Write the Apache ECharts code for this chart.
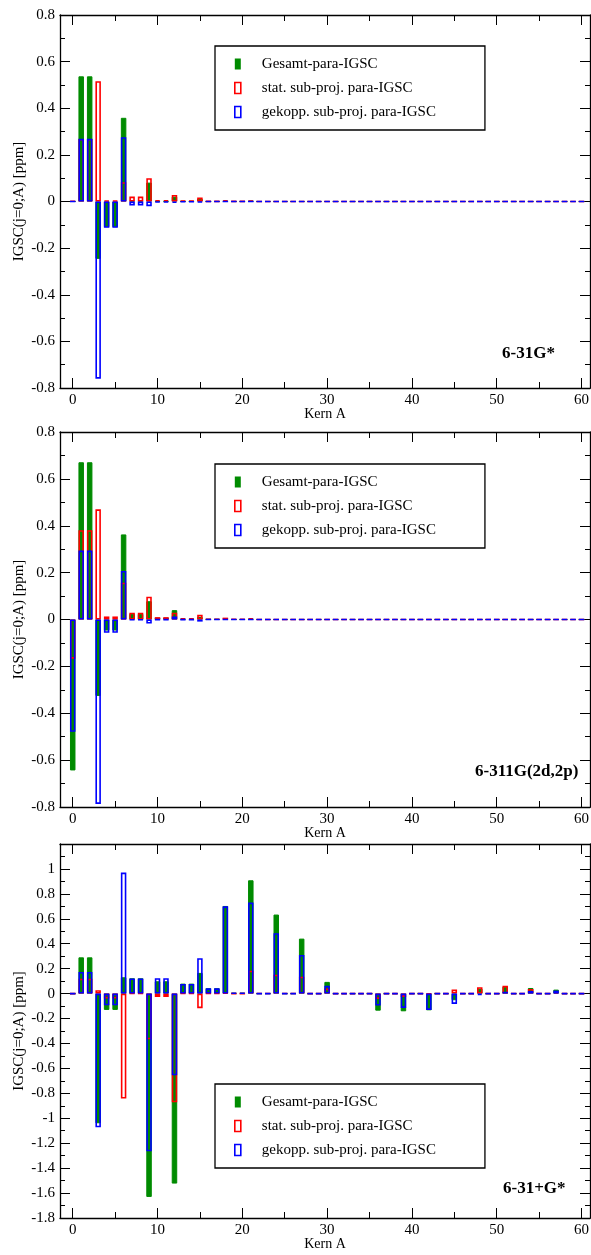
<!DOCTYPE html>
<html>
<head>
<meta charset="utf-8">
<title>IGSC para</title>
<script src="https://cdn.jsdelivr.net/npm/echarts@6/dist/echarts.min.js"></script>
<style>
html, body { margin: 0; padding: 0; background: #ffffff; }
#grafico { width: 591px; height: 1255px; }
</style>
</head>
<body>
<div id="grafico"></div>
<script>
// Kern A (x-Werte)
const kern = [0, 1, 2, 3, 4, 5, 6, 7, 8, 9, 10, 11, 12, 13, 14, 15, 16, 17, 18, 19, 20,
  21, 22, 23, 24, 25, 26, 27, 28, 29, 30, 31, 32, 33, 34, 35, 36, 37, 38, 39, 40,
  41, 42, 43, 44, 45, 46, 47, 48, 49, 50, 51, 52, 53, 54, 55, 56, 57, 58, 59, 60];

const xTicks = [0, 10, 20, 30, 40, 50, 60];
const xMinorTicks = [5, 15, 25, 35, 45, 55];

const basis = ['6-31G*', '6-311G(2d,2p)', '6-31+G*'];
const nomes = ['Gesamt-para-IGSC', 'stat. sub-proj. para-IGSC', 'gekopp. sub-proj. para-IGSC'];

// 6-31G*
const gesamt1 = [0, 0.537, 0.537, -0.246, -0.110, -0.110, 0.359, 0.004, 0.004, 0.081, 0.002,
  0.002, 0.021, 0.001, 0.001, 0.012, 0, 0, 0.003, 0, 0,
  0.002, 0, 0, 0, 0, 0, 0, 0, 0, 0, 0, 0, 0, 0, 0, 0, 0, 0, 0, 0,
  0, 0, 0, 0, 0, 0, 0, 0, 0, 0, 0, 0, 0, 0, 0, 0, 0, 0, 0, 0];
const stat1 = [0.002, 0.268, 0.268, 0.516, 0.004, 0.004, 0.083, 0.021, 0.021, 0.100, 0.006,
  0.006, 0.028, 0.003, 0.003, 0.017, 0.001, 0.001, 0.006, 0.001, 0.001,
  0.004, 0, 0, 0, 0, 0, 0, 0, 0, 0, 0, 0, 0, 0, 0, 0, 0, 0, 0, 0,
  0, 0, 0, 0, 0, 0, 0, 0, 0, 0, 0, 0, 0, 0, 0, 0, 0, 0, 0, 0];
const gekopp1 = [0, 0.269, 0.269, -0.760, -0.113, -0.113, 0.276, -0.017, -0.017, -0.020, -0.004,
  -0.004, -0.006, -0.002, -0.002, -0.004, 0, 0, 0, 0, 0,
  0, 0, 0, 0, 0, 0, 0, 0, 0, 0, 0, 0, 0, 0, 0, 0, 0, 0, 0, 0,
  0, 0, 0, 0, 0, 0, 0, 0, 0, 0, 0, 0, 0, 0, 0, 0, 0, 0, 0, 0];

// 6-311G(2d,2p)
const gesamt2 = [-0.644, 0.671, 0.671, -0.326, -0.047, -0.047, 0.363, 0.024, 0.024, 0.078, 0.008,
  0.008, 0.040, 0.003, 0.003, 0.011, 0.001, 0.001, 0.006, 0, 0,
  0.003, 0, 0, 0, 0, 0, 0, 0, 0, 0, 0, 0, 0, 0, 0, 0, 0, 0, 0, 0,
  0, 0, 0, 0, 0, 0, 0, 0, 0, 0, 0, 0, 0, 0, 0, 0, 0, 0, 0, 0];
const stat2 = [-0.167, 0.381, 0.381, 0.470, 0.013, 0.013, 0.157, 0.029, 0.029, 0.097, 0.010,
  0.010, 0.029, 0.005, 0.005, 0.020, 0.002, 0.002, 0.008, 0.002, 0.002,
  0.005, 0, 0, 0, 0, 0, 0, 0, 0, 0, 0, 0, 0, 0, 0, 0, 0, 0, 0, 0,
  0, 0, 0, 0, 0, 0, 0, 0, 0, 0, 0, 0, 0, 0, 0, 0, 0, 0, 0, 0];
const gekopp2 = [-0.479, 0.294, 0.294, -0.787, -0.057, -0.057, 0.207, -0.002, -0.002, -0.017, -0.001,
  -0.001, 0.013, -0.001, -0.001, -0.009, 0, 0, 0, 0, 0,
  0, 0, 0, 0, 0, 0, 0, 0, 0, 0, 0, 0, 0, 0, 0, 0, 0, 0, 0, 0,
  0, 0, 0, 0, 0, 0, 0, 0, 0, 0, 0, 0, 0, 0, 0, 0, 0, 0, 0, 0];

// 6-31+G*
const gesamt3 = [0, 0.291, 0.291, -1.040, -0.131, -0.131, 0.131, 0.123, 0.123, -1.631, 0.099,
  0.099, -1.524, 0.080, 0.080, 0.166, 0.043, 0.043, 0.703, 0.005, 0.005,
  0.909, 0, 0, 0.634, 0, 0, 0.441, 0, 0, 0.094, 0, 0, 0, 0, 0, -0.137, 0, 0, -0.142, 0,
  0, -0.134, 0, 0, -0.053, 0, 0, 0.040, 0, 0, 0.056, 0, 0, 0.045, 0, 0, 0.032, 0, 0, 0];
const stat3 = [0, 0.120, 0.120, 0.027, -0.040, -0.040, -0.842, 0.002, 0.002, -0.366, -0.027,
  -0.027, -0.872, 0.002, 0.002, -0.117, 0.001, 0.001, 0.005, 0, 0,
  0.184, 0.002, 0.002, 0.152, 0.002, 0.002, 0.136, 0, 0, 0.040, 0, 0, 0, 0, 0, -0.043, 0, 0, -0.027, 0,
  0, -0.003, 0, 0, 0.032, 0, 0, 0.051, 0, 0, 0.062, 0, 0, 0.037, 0, 0, 0.010, 0, 0, 0];
const gekopp3 = [0, 0.174, 0.174, -1.072, -0.094, -0.094, 0.971, 0.121, 0.121, -1.265, 0.123,
  0.123, -0.655, 0.078, 0.078, 0.284, 0.042, 0.042, 0.700, 0.005, 0.005,
  0.730, 0, 0, 0.484, 0, 0, 0.310, 0, 0, 0.062, 0, 0, 0, 0, 0, -0.096, 0, 0, -0.115, 0,
  0, -0.131, 0, 0, -0.083, 0, 0, -0.012, 0, 0, 0.015, 0, 0, 0.021, 0, 0, 0.024, 0, 0, 0];

const paineis = [
  { gesamt: gesamt1, stat: stat1, gekopp: gekopp1, yMin: -0.8, yMax: 0.8 },
  { gesamt: gesamt2, stat: stat2, gekopp: gekopp2, yMin: -0.8, yMax: 0.8 },
  { gesamt: gesamt3, stat: stat3, gekopp: gekopp3, yMin: -1.8, yMax: 1.2 },
];

const fonte = 'Liberation Serif, Times New Roman, serif';
const VERDE = '#008b00';
const VERMELHO = '#ff0000';
const AZUL = '#0000ff';

const grids = [
  { left: 60, right: 1, top: 15, height: 373, outerBoundsMode: 'none' },
  { left: 60, right: 1, top: 432, height: 375, outerBoundsMode: 'none' },
  { left: 60, right: 1, top: 844, height: 374, outerBoundsMode: 'none' },
];
const legendTops = [46, 464, 1084];
const tituloPos = [[497, 340], [470, 758], [498, 1175]];

const linhaEixo = { show: true, onZero: false, lineStyle: { color: '#000', width: 1.3 } };
const semLinha = { show: false, onZero: false };

const xAxes = [];
const yAxes = [];
const series = [];
const legends = [];
const titles = [];

paineis.forEach((p, g) => {
  const base = { type: 'value', gridIndex: g, min: -1.5, max: 61, splitLine: { show: false } };
  // eixo inferior com rótulos
  xAxes.push({
    ...base,
    position: 'bottom',
    axisLine: linhaEixo,
    axisTick: { show: true, inside: true, length: 10, customValues: xTicks, lineStyle: { color: '#000' } },
    axisLabel: { customValues: xTicks, color: '#000', fontFamily: fonte, fontSize: 15, margin: 5 },
    name: 'Kern A',
    nameLocation: 'middle',
    nameGap: 19,
    nameMoveOverlap: false,
    nameTextStyle: { color: '#000', fontFamily: fonte, fontSize: 14 },
  });
  // ticks menores embaixo
  xAxes.push({
    ...base,
    position: 'bottom',
    axisLine: semLinha,
    axisTick: { show: true, inside: true, length: 6, customValues: xMinorTicks, lineStyle: { color: '#000' } },
    axisLabel: { show: false },
  });
  // espelho no topo
  xAxes.push({
    ...base,
    position: 'top',
    axisLine: linhaEixo,
    axisTick: { show: true, inside: true, length: 10, customValues: xTicks, lineStyle: { color: '#000' } },
    axisLabel: { show: false },
  });
  xAxes.push({
    ...base,
    position: 'top',
    axisLine: semLinha,
    axisTick: { show: true, inside: true, length: 6, customValues: xMinorTicks, lineStyle: { color: '#000' } },
    axisLabel: { show: false },
  });

  const yBase = {
    type: 'value', gridIndex: g, min: p.yMin, max: p.yMax, interval: 0.2,
    splitLine: { show: false },
    axisLine: linhaEixo,
    axisTick: { show: true, inside: true, length: 10, lineStyle: { color: '#000' } },
    minorTick: { show: true, splitNumber: 2, length: 5, lineStyle: { color: '#000' } },
  };
  yAxes.push({
    ...yBase,
    position: 'left',
    axisLabel: {
      color: '#000', fontFamily: fonte, fontSize: 15, margin: 5,
      formatter: (v) => (v > 1.1 ? '' : String(Math.round(v * 10) / 10)),
    },
    name: 'IGSC(j=0;A) [ppm]',
    nameLocation: 'middle',
    nameGap: 33,
    nameMoveOverlap: false,
    nameTextStyle: { color: '#000', fontFamily: fonte, fontSize: 15 },
  });
  yAxes.push({ ...yBase, position: 'right', axisLabel: { show: false } });

  const xi = g * 4;
  const yi = g * 2;
  series.push({
    name: nomes[0], type: 'bar', xAxisIndex: xi, yAxisIndex: yi,
    barWidth: 5.5, barGap: '-100%',
    itemStyle: { color: VERDE, borderColor: VERDE, borderWidth: 1 },
    data: kern.map((k, i) => [k, p.gesamt[i]]),
  });
  series.push({
    name: nomes[1], type: 'bar', xAxisIndex: xi, yAxisIndex: yi,
    barWidth: 5.5, barGap: '-100%',
    itemStyle: { color: 'rgba(0,0,0,0)', borderColor: VERMELHO, borderWidth: 1.6 },
    data: kern.map((k, i) => [k, p.stat[i]]),
  });
  series.push({
    name: nomes[2], type: 'bar', xAxisIndex: xi, yAxisIndex: yi,
    barWidth: 5.5, barGap: '-100%',
    itemStyle: { color: 'rgba(0,0,0,0)', borderColor: AZUL, borderWidth: 1.6 },
    data: kern.map((k, i) => [k, p.gekopp[i]]),
  });

  legends.push({
    orient: 'vertical',
    left: 215,
    top: legendTops[g],
    padding: [10, 49, 10, 19],
    itemGap: 8,
    itemWidth: 6,
    itemHeight: 11,
    selectedMode: false,
    borderColor: '#000',
    borderWidth: 1.3,
    backgroundColor: '#fff',
    textStyle: { color: '#000', fontFamily: fonte, fontSize: 15, lineHeight: 16, padding: [0, 0, 0, 16] },
    data: [
      { name: nomes[0], icon: 'rect', itemStyle: { color: VERDE, borderColor: VERDE, borderWidth: 0 } },
      { name: nomes[1], icon: 'rect', itemStyle: { color: 'rgba(0,0,0,0)', borderColor: VERMELHO, borderWidth: 1.6 } },
      { name: nomes[2], icon: 'rect', itemStyle: { color: 'rgba(0,0,0,0)', borderColor: AZUL, borderWidth: 1.6 } },
    ],
  });

  titles.push({
    text: basis[g],
    left: tituloPos[g][0],
    top: tituloPos[g][1],
    textStyle: { color: '#000', fontFamily: fonte, fontSize: 17, fontWeight: 'bold' },
  });
});

const chart = echarts.init(document.getElementById('grafico'));
chart.setOption({
  backgroundColor: '#ffffff',
  animation: false,
  title: titles,
  legend: legends,
  grid: grids,
  xAxis: xAxes,
  yAxis: yAxes,
  series: series,
});
</script>
</body>
</html>
